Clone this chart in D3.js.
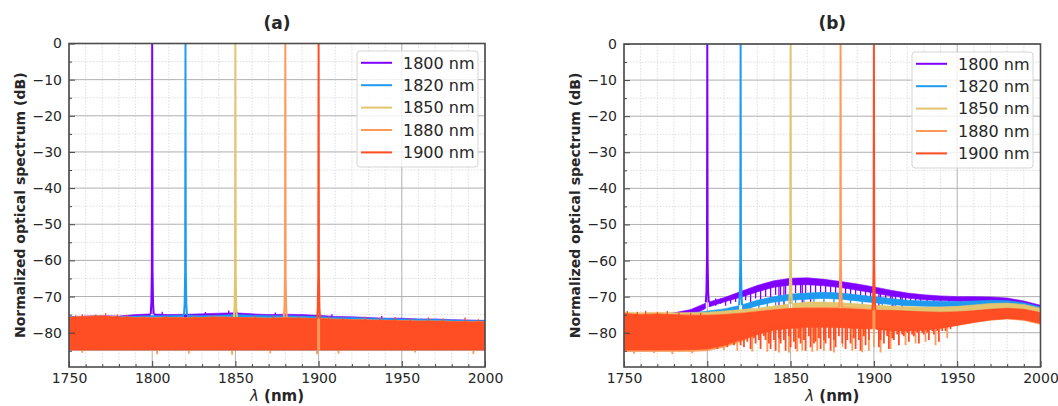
<!DOCTYPE html>
<html>
<head>
<meta charset="utf-8">
<script src="https://cdn.jsdelivr.net/npm/d3@7"></script>
<style>
  body { margin: 0; background: #fff; }
  svg text { font-family: "DejaVu Sans", sans-serif; fill: #262626; }
</style>
</head>
<body>
<svg id="chart" width="1058" height="406"></svg>
<script>
// Series
const seriesNames = ["1800 nm", "1820 nm", "1850 nm", "1880 nm", "1900 nm"];
const peakCenters = [1800, 1820, 1850, 1880, 1900];
const colors = ["#8000ff", "#1e9bf0", "#e2c56e", "#ff9a5a", "#ff4d24"];

// Ticks
const xMajor = [1750, 1800, 1850, 1900, 1950, 2000];
const yMajor = [0, -10, -20, -30, -40, -50, -60, -70, -80];

// Envelope sample wavelengths (nm)
const gridWl = [1750, 1760, 1770, 1780, 1790, 1800, 1810, 1820, 1830, 1840, 1850, 1860, 1870,
                1880, 1890, 1900, 1910, 1920, 1930, 1940, 1950, 1960, 1970, 1980, 1990, 2000];

// Panel (a): noise floor envelopes (dB)
const aTopPurple = [-75.6, -75.4, -75.3, -75.4, -75.0, -74.8, -75.0, -74.9, -74.8, -74.6, -74.5, -74.8, -75.0,
                    -74.9, -75.0, -75.2, -75.5, -75.6, -75.8, -76.0, -76.0, -76.2, -76.2, -76.4, -76.5, -76.6];
const aTopBlue = [-75.7, -75.5, -75.5, -75.6, -75.4, -75.3, -75.3, -75.1, -75.3, -75.2, -75.0, -75.2, -75.3,
                  -75.3, -75.4, -75.5, -75.8, -75.8, -76.0, -76.1, -76.2, -76.3, -76.3, -76.5, -76.6, -76.7];
const aTopRed = [-75.8, -75.5, -75.4, -75.7, -75.8, -75.9, -75.8, -75.9, -75.8, -75.7, -75.8, -75.9, -76.0,
                 -75.9, -76.0, -76.1, -76.3, -76.4, -76.5, -76.6, -76.7, -76.8, -76.8, -76.9, -77.0, -77.0];
const aBottom = [-84.8, -84.8, -84.8, -84.8, -84.8, -84.8, -84.8, -84.8, -84.8, -84.8, -84.8, -84.8, -84.8,
                 -84.8, -84.8, -84.8, -84.8, -84.8, -84.8, -84.8, -84.8, -84.8, -84.8, -84.8, -84.8, -84.8];
// spikes: [wavelength, dB]
const aUpPurple = [[1806, -74.2], [1832, -74.3], [1846, -73.9], [1851, -74.2], [1874, -74.4], [1908, -74.9], [1938, -75.4]];
const aUpRed = [[1754, -75.2], [1758, -74.9], [1766, -75.0], [1772, -74.6], [1779, -75.0], [1785, -75.1], [1795, -75.3],
                [1808, -75.4], [1826, -75.3], [1836, -75.2], [1862, -75.4], [1873, -75.4], [1888, -75.5], [1906, -75.5],
                [1915, -75.8], [1928, -75.6], [1937, -75.9], [1946, -75.7], [1955, -76.0], [1966, -75.8], [1975, -76.1],
                [1988, -75.8], [1996, -76.3]];
const aDownOrange = [[1758, -85.6], [1803, -86.0], [1822, -85.8], [1848, -86.1], [1871, -85.7], [1899, -86.0],
                     [1912, -85.8], [1958, -85.5], [1993, -85.9]];

// Panel (b): noise floor envelopes (dB)
const bTop1800 = [-75.0, -75.0, -75.0, -74.5, -73.6, -71.6, -70.3, -68.6, -66.9, -65.6, -64.9, -64.8, -65.2,
                  -65.8, -66.5, -67.3, -68.2, -69.0, -69.5, -69.8, -70.0, -70.0, -70.1, -70.4, -71.2, -72.4];
const bBot1800 = [-85.0, -85.0, -85.0, -84.0, -75.5, -73.0, -71.5, -70.2, -68.7, -67.4, -66.8, -66.7, -67.0,
                  -67.5, -68.2, -69.0, -69.8, -70.4, -70.9, -71.1, -71.3, -71.3, -71.4, -71.7, -72.5, -73.5];
const bTop1820 = [-75.0, -75.0, -75.0, -75.0, -74.6, -74.0, -73.4, -72.4, -71.0, -70.0, -69.3, -69.0, -68.8,
                  -69.0, -69.5, -70.0, -70.5, -71.0, -71.2, -71.3, -71.4, -71.2, -71.0, -71.1, -71.7, -72.8];
const bBot1820 = [-85.0, -85.0, -85.0, -85.0, -80.0, -75.8, -75.0, -74.0, -72.5, -71.5, -71.0, -70.7, -70.5,
                  -70.7, -71.2, -71.7, -72.2, -72.5, -72.7, -72.8, -72.8, -72.6, -72.4, -72.4, -72.9, -73.8];
const bTop1850 = [-74.3, -74.5, -74.3, -74.5, -74.4, -74.3, -74.0, -73.6, -73.2, -72.6, -72.0, -71.5, -71.5,
                  -71.7, -72.0, -72.4, -72.6, -72.8, -72.9, -72.9, -72.7, -72.3, -71.9, -71.8, -72.2, -73.2];
const bBot1850 = [-85.0, -85.0, -85.0, -85.0, -85.0, -84.5, -82.0, -79.0, -76.0, -74.6, -74.0, -73.6, -73.5,
                  -73.7, -74.0, -74.4, -74.6, -74.7, -74.8, -74.8, -74.5, -74.1, -73.7, -73.5, -73.9, -74.9];
const bTop1880 = [-74.8, -74.9, -74.8, -75.0, -75.0, -75.0, -74.8, -74.5, -74.0, -73.5, -73.2, -73.0, -73.0,
                  -73.0, -73.2, -73.6, -73.9, -74.1, -74.3, -74.4, -74.3, -74.0, -73.6, -73.3, -73.6, -74.6];
const bBot1880 = [-85.2, -85.2, -85.2, -85.2, -85.2, -85.0, -84.0, -82.5, -80.5, -79.0, -78.5, -78.3, -78.2,
                  -78.3, -78.5, -78.8, -79.3, -79.3, -79.1, -78.6, -77.9, -77.1, -76.5, -76.2, -76.6, -77.7];
const bTop1900 = [-74.7, -75.0, -74.8, -75.0, -75.2, -75.2, -75.0, -74.7, -74.2, -73.7, -73.3, -73.2, -73.2,
                  -73.3, -73.5, -73.8, -73.8, -74.0, -74.2, -74.3, -74.2, -73.9, -73.5, -73.2, -73.5, -74.4];
const bBot1900 = [-84.8, -84.8, -84.8, -84.8, -84.7, -84.5, -83.5, -82.0, -80.5, -79.3, -78.8, -78.5, -78.5,
                  -78.6, -78.8, -79.0, -79.5, -79.5, -79.3, -78.8, -78.0, -77.2, -76.5, -76.1, -76.4, -77.4];
const bDown1800 = [[1805, -72.5], [1808, -72.0], [1811, -72.5], [1814, -72.0], [1817, -71.5], [1823, -71.0], [1826, -71.5],
                   [1829, -70.5], [1832, -71.0], [1835, -70.0], [1838, -70.5], [1841, -69.5], [1843, -82.0], [1844, -70.0],
                   [1846, -79.0], [1847, -69.5], [1853, -69.0], [1856, -70.0], [1857, -79.5], [1859, -69.5], [1862, -80.5],
                   [1865, -69.5], [1868, -70.0], [1871, -69.5], [1874, -70.0], [1877, -70.5], [1883, -70.5], [1886, -71.0],
                   [1889, -70.5], [1892, -71.0], [1895, -71.5], [1898, -71.0], [1903, -82.0], [1904, -72.0], [1907, -71.5],
                   [1910, -72.0], [1911, -78.0], [1913, -72.5], [1916, -72.0], [1917, -80.0], [1919, -72.5], [1922, -72.0],
                   [1925, -72.5], [1928, -72.0], [1932, -72.5], [1936, -72.0], [1940, -72.0], [1945, -72.0], [1952, -71.8],
                   [1960, -71.8], [1968, -71.8]];
const bDown1820 = [[1826, -74.0], [1831, -73.5], [1836, -73.0], [1841, -72.5], [1846, -72.5], [1853, -72.0], [1858, -72.0],
                   [1864, -72.0], [1870, -72.0], [1876, -72.5], [1886, -73.0], [1893, -73.0], [1905, -73.5], [1912, -74.0]];
const bDown1880 = [[1756, -85.8], [1768, -85.6], [1779, -85.9], [1791, -85.7], [1810, -84.8], [1818, -85.0], [1827, -85.2],
                   [1836, -85.3], [1843, -85.5], [1849, -85.5], [1854, -85.2], [1857, -85.0], [1863, -85.3], [1866, -85.0],
                   [1870, -85.0], [1876, -85.5], [1881, -84.0], [1887, -85.0], [1893, -85.4], [1897, -85.0], [1900, -84.0],
                   [1904, -85.5], [1910, -84.5], [1919, -83.5], [1925, -83.0], [1931, -82.5], [1937, -83.5], [1944, -81.5]];
const bUp1900 = [[1752, -74.0], [1758, -74.2], [1763, -73.9], [1770, -74.3], [1776, -74.0], [1783, -74.4], [1790, -74.6],
                 [1796, -74.5]];
const bDown1900 = [[1806, -84.5], [1809, -83.8], [1812, -84.0], [1814, -82.5], [1816, -83.5], [1818, -82.0], [1820, -83.5],
                   [1822, -84.0], [1824, -82.5], [1826, -84.5], [1828, -81.5], [1829, -83.0], [1831, -82.0], [1832, -84.5],
                   [1834, -81.0], [1835, -82.0], [1837, -83.0], [1838, -84.5], [1840, -82.0], [1841, -85.0], [1843, -81.5],
                   [1844, -83.0], [1846, -82.0], [1847, -85.0], [1849, -81.0], [1850, -84.0], [1852, -82.5], [1853, -84.5],
                   [1855, -81.5], [1856, -83.0], [1858, -82.0], [1859, -85.0], [1861, -81.0], [1862, -84.0], [1864, -83.0],
                   [1865, -82.5], [1867, -81.5], [1868, -84.5], [1870, -82.0], [1871, -83.0], [1873, -81.5], [1874, -85.0],
                   [1876, -82.0], [1877, -84.0], [1879, -81.0], [1881, -83.0], [1883, -84.5], [1884, -82.0], [1886, -83.0],
                   [1888, -81.5], [1889, -84.5], [1891, -82.0], [1892, -85.0], [1894, -81.0], [1895, -83.5], [1897, -82.0],
                   [1903, -84.0], [1904, -82.0], [1906, -83.0], [1908, -81.0], [1909, -84.5], [1911, -81.5], [1912, -82.0],
                   [1914, -80.5], [1915, -83.5], [1917, -80.5], [1918, -81.0], [1920, -80.0], [1921, -82.5], [1923, -80.5],
                   [1924, -81.0], [1926, -80.0], [1927, -83.0], [1929, -80.0], [1930, -80.5], [1932, -80.0], [1933, -82.0],
                   [1935, -79.5], [1936, -80.5], [1938, -79.5], [1939, -82.5], [1941, -79.5], [1943, -79.5], [1946, -79.0]];

// Peak profile: offset from centre (nm) and rise above floor (dB)
const peakOffsets = [-0.9, -0.5, -0.2, 0, 0.2, 0.5, 0.9];
const peakRise = [0, 3, 12, 100, 12, 3, 0];

// Build panels from the arrays above
const panelA = {
  id: "a", title: "(a)", x0: 69, x1: 485, y0: 43.5, y1: 367, legend: { x: 357, y: 51 },
  series: [
    { top: aTopPurple, bot: aBottom, up: aUpPurple, down: [] },
    { top: aTopBlue, bot: aBottom, up: [], down: [] },
    { top: aTopRed, bot: aBottom, up: [], down: [] },
    { top: aTopRed, bot: aBottom, up: [], down: aDownOrange },
    { top: aTopRed, bot: aBottom, up: aUpRed, down: [] }
  ]
};
const panelB = {
  id: "b", title: "(b)", x0: 624, x1: 1040.5, y0: 44, y1: 367, legend: { x: 912, y: 52 },
  series: [
    { top: bTop1800, bot: bBot1800, up: [], down: bDown1800 },
    { top: bTop1820, bot: bBot1820, up: [], down: bDown1820 },
    { top: bTop1850, bot: bBot1850, up: [], down: [] },
    { top: bTop1880, bot: bBot1880, up: [], down: bDown1880 },
    { top: bTop1900, bot: bBot1900, up: bUp1900, down: bDown1900 }
  ]
};

const svg = d3.select("#chart");
const defs = svg.append("defs");

function drawPanel(p) {
  const w = p.x1 - p.x0, h = p.y1 - p.y0;
  const x = d3.scaleLinear().domain([1750, 2000]).range([0, w]);
  const y = d3.scaleLinear().domain([-89.5, 0]).range([h, 0]);
  const g = svg.append("g").attr("transform", `translate(${p.x0},${p.y0})`);

  const xMinor = d3.range(1760, 2000, 10).filter(d => !xMajor.includes(d));
  const yMinor = d3.range(-85, 0, 5).filter(d => !yMajor.includes(d));

  // grid
  const grid = g.append("g");
  grid.selectAll(".gxm").data(xMinor).join("line")
    .attr("x1", d => x(d)).attr("x2", d => x(d)).attr("y1", 0).attr("y2", h);
  grid.selectAll(".gym").data(yMinor).join("line")
    .attr("x1", 0).attr("x2", w).attr("y1", d => y(d)).attr("y2", d => y(d));
  grid.selectAll("line").attr("stroke", "#d6d6d6").attr("stroke-width", 0.8).attr("stroke-dasharray", "1.5,1.5");
  grid.selectAll(".gx").data(xMajor).join("line").attr("class", "gx")
    .attr("x1", d => x(d)).attr("x2", d => x(d)).attr("y1", 0).attr("y2", h)
    .attr("stroke", "#b0b0b0").attr("stroke-width", 1);
  grid.selectAll(".gy").data(yMajor).join("line").attr("class", "gy")
    .attr("x1", 0).attr("x2", w).attr("y1", d => y(d)).attr("y2", d => y(d))
    .attr("stroke", "#b0b0b0").attr("stroke-width", 1);

  // plot clip
  defs.append("clipPath").attr("id", `plot-${p.id}`)
    .append("rect").attr("width", w).attr("height", h);
  const data = g.append("g").attr("clip-path", `url(#plot-${p.id})`);

  const area = d3.area()
    .x((d, i) => x(gridWl[i]))
    .y0(d => y(d[1]))
    .y1(d => y(d[0]));

  p.series.forEach((s, i) => {
    const c = peakCenters[i];
    // gap around the peak where the noise floor is replaced by the line
    const cp = defs.append("clipPath").attr("id", `gap-${p.id}-${i}`);
    cp.append("rect").attr("x", -2).attr("y", -2).attr("width", x(c - 0.9) + 2).attr("height", h + 4);
    cp.append("rect").attr("x", x(c + 0.9)).attr("y", -2).attr("width", w - x(c + 0.9) + 2).attr("height", h + 4);

    const sg = data.append("g");
    const floor = sg.append("g").attr("clip-path", `url(#gap-${p.id}-${i})`);
    const band = s.top.map((t, k) => [t, s.bot[k]]);
    floor.append("path").datum(band)
      .attr("d", area)
      .attr("fill", colors[i])
      .attr("stroke", colors[i]).attr("stroke-width", 0.6);

    const near = wl => d3.bisectCenter(gridWl, wl);
    floor.selectAll(".dn").data(s.down).join("line")
      .attr("x1", d => x(d[0])).attr("x2", d => x(d[0]))
      .attr("y1", d => y(s.bot[near(d[0])] + 1)).attr("y2", d => y(d[1]))
      .attr("stroke", colors[i]).attr("stroke-width", i < 2 ? 1.3 : 1.8);
    floor.selectAll(".up").data(s.up).join("line")
      .attr("x1", d => x(d[0])).attr("x2", d => x(d[0]))
      .attr("y1", d => y(s.top[near(d[0])] - 1)).attr("y2", d => y(d[1]))
      .attr("stroke", colors[i]).attr("stroke-width", 1.3);

    // peak
    const base = s.top[near(c)];
    const peak = peakOffsets.map((o, k) => [c + o, Math.min(0, base + peakRise[k])]);
    sg.append("path").datum(peak)
      .attr("d", d3.line().x(d => x(d[0])).y(d => y(d[1])))
      .attr("fill", "none").attr("stroke", colors[i]).attr("stroke-width", 2);
  });

  // axes with inward ticks
  const styleAxis = sel => {
    sel.attr("font-family", "DejaVu Sans, sans-serif").attr("font-size", 14).attr("color", "#444");
    sel.select(".domain").remove();
    sel.selectAll("text").attr("fill", "#262626");
  };
  g.append("g").attr("transform", `translate(0,${h})`)
    .call(d3.axisBottom(x).tickValues(xMajor).tickSize(-6).tickPadding(6).tickFormat(d3.format("d")))
    .call(styleAxis);
  g.append("g").attr("transform", `translate(0,${h})`)
    .call(d3.axisBottom(x).tickValues(xMinor).tickSize(-3).tickFormat(""))
    .call(styleAxis);
  g.append("g")
    .call(d3.axisLeft(y).tickValues(yMajor).tickSize(-6).tickPadding(7).tickFormat(d3.format("d")))
    .call(styleAxis);
  g.append("g")
    .call(d3.axisLeft(y).tickValues(yMinor).tickSize(-3).tickFormat(""))
    .call(styleAxis);

  // spines
  g.append("rect").attr("width", w).attr("height", h)
    .attr("fill", "none").attr("stroke", "#4d4d4d").attr("stroke-width", 1.6);

  // labels
  svg.append("text").attr("x", p.x0 + w / 2).attr("y", 29)
    .attr("text-anchor", "middle").attr("font-size", 17).attr("font-weight", "bold")
    .text(p.title);
  svg.append("text")
    .attr("transform", `translate(${p.x0 - 44},${p.y0 + h / 2}) rotate(-90)`)
    .attr("text-anchor", "middle").attr("font-size", 14).attr("font-weight", "bold")
    .text("Normalized optical spectrum (dB)");
  const xl = svg.append("text").attr("x", p.x0 + w / 2).attr("y", 401)
    .attr("text-anchor", "middle").attr("font-size", 15).attr("font-weight", "bold");
  xl.append("tspan").attr("font-style", "italic").attr("font-weight", "normal").text("λ");
  xl.append("tspan").text(" (nm)");

  // legend
  const lg = svg.append("g").attr("transform", `translate(${p.legend.x},${p.legend.y})`);
  lg.append("rect").attr("width", 121).attr("height", 116).attr("rx", 3)
    .attr("fill", "rgba(255,255,255,0.8)").attr("stroke", "#d5d5d5");
  seriesNames.forEach((n, i) => {
    const cy = 11.8 + i * 22.4;
    lg.append("line").attr("x1", 4).attr("x2", 35).attr("y1", cy).attr("y2", cy)
      .attr("stroke", colors[i]).attr("stroke-width", 2);
    lg.append("text").attr("x", 46).attr("y", cy + 5.8).attr("font-size", 16).text(n);
  });
}

drawPanel(panelA);
drawPanel(panelB);
</script>
</body>
</html>
